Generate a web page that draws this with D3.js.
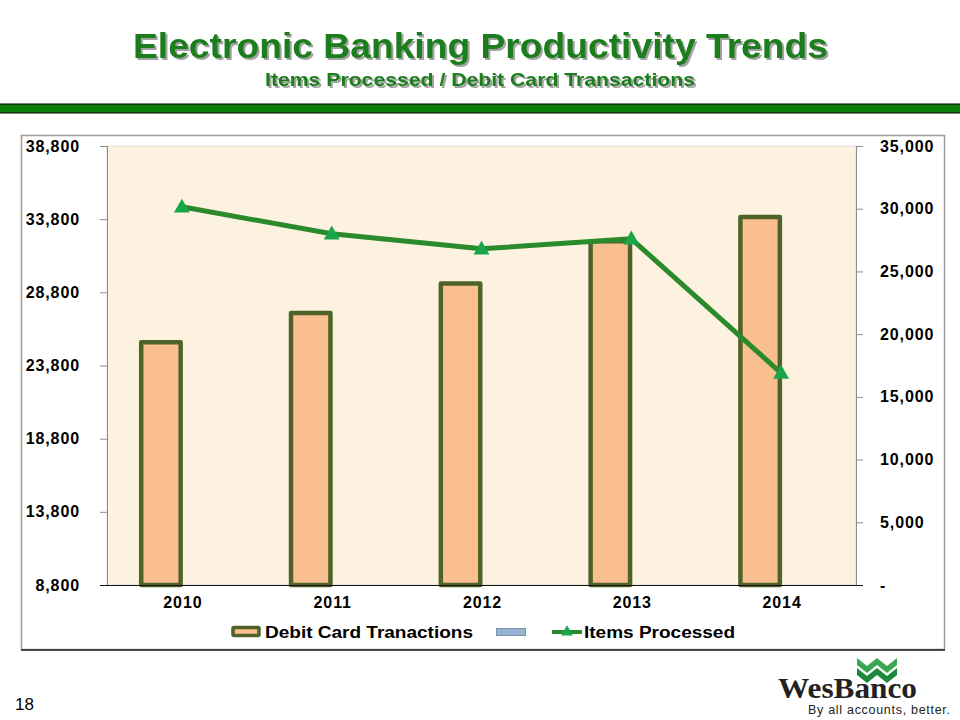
<!DOCTYPE html>
<html><head><meta charset="utf-8">
<script src="https://cdn.jsdelivr.net/npm/d3@7"></script>
<style>body{margin:0;background:#fff}svg{display:block}</style>
</head><body>
<svg id="c" width="960" height="720"></svg>
<script>
const categories = ["2010","2011","2012","2013","2014"];
const debitCard = [25550, 27550, 29550, 32450, 34100];
const itemsProcessed = [30150, 28000, 26800, 27600, 16900];
const leftTicks = [8800, 13800, 18800, 23800, 28800, 33800, 38800];
const rightTicks = [0, 5000, 10000, 15000, 20000, 25000, 30000, 35000];
const seriesNames = ["Debit Card Tranactions", "", "Items Processed"];

const svg = d3.select("#c");
const font = "'Liberation Sans', Arial, sans-serif";

const defs = svg.append("defs");
const f = defs.append("filter").attr("id", "sh").attr("x", "-5%").attr("y", "-20%").attr("width", "110%").attr("height", "150%");
f.append("feDropShadow").attr("dx", 2).attr("dy", 2).attr("stdDeviation", 0.6).attr("flood-color", "#555").attr("flood-opacity", 0.55);

// Title
const tg = svg.append("g").attr("font-family", font).attr("font-weight", "bold").attr("text-anchor", "middle").attr("fill", "#1a7d1a").attr("filter", "url(#sh)");
tg.append("text").attr("x", 480.5).attr("y", 58).attr("font-size", 35).attr("textLength", 695).attr("lengthAdjust", "spacingAndGlyphs").text("Electronic Banking Productivity Trends");
tg.append("text").attr("x", 480).attr("y", 86).attr("font-size", 19).attr("textLength", 430).attr("lengthAdjust", "spacingAndGlyphs").text("Items Processed / Debit Card Transactions");
svg.append("rect").attr("x", -1).attr("y", 104).attr("width", 962).attr("height", 9).attr("fill", "#0a7f0a").attr("stroke", "#000").attr("stroke-width", 1);

// Chart box
svg.append("rect").attr("x", 21.5).attr("y", 135.5).attr("width", 923).attr("height", 514).attr("fill", "#fff").attr("stroke", "#9a9a9a").attr("stroke-width", 1.5);
svg.append("line").attr("x1", 21).attr("x2", 945).attr("y1", 650).attr("y2", 650).attr("stroke", "#222").attr("stroke-width", 1.5);

const m = {l: 107, r: 856, t: 146, b: 585};
svg.append("rect").attr("x", m.l).attr("y", m.t).attr("width", m.r - m.l).attr("height", m.b - m.t).attr("fill", "#fcf2df").attr("stroke", "#d8d8d8").attr("stroke-width", 0.8);

const x = d3.scaleBand().domain(categories).range([m.l, m.r]).paddingInner(0.4).paddingOuter(0.2);
const xs = d3.scaleBand().domain([0, 1]).range([0, x.bandwidth()]);
const yL = d3.scaleLinear().domain([8800, 38800]).range([m.b, m.t]);
const yR = d3.scaleLinear().domain([0, 35000]).range([m.b, m.t]);

// Bars
const sw = 4.5;
svg.append("g").selectAll("rect").data(debitCard).join("rect")
  .attr("x", (d, i) => x(categories[i]) + xs(0) + sw / 2 + 2)
  .attr("y", d => yL(d) + sw / 2)
  .attr("width", xs.bandwidth() - sw - 1)
  .attr("height", d => m.b - yL(d) - sw / 2)
  .attr("fill", "#f9bf8f").attr("stroke", "#4f6228").attr("stroke-width", sw).attr("stroke-linejoin", "round");

// Axes
const fmt = d3.format(",");
const axL = svg.append("g").attr("transform", `translate(${m.l},0)`)
  .call(d3.axisLeft(yL).tickValues(leftTicks).tickSize(7).tickPadding(20).tickFormat(fmt));
const axR = svg.append("g").attr("transform", `translate(${m.r},0)`)
  .call(d3.axisRight(yR).tickValues(rightTicks).tickSize(7).tickPadding(17).tickFormat(d => d === 0 ? "-" : fmt(d)));
[axL, axR].forEach(a => {
  a.select(".domain").attr("stroke", "#8c8c8c");
  a.selectAll(".tick line").attr("stroke", "#8c8c8c");
  a.selectAll("text").attr("font-family", font).attr("font-weight", "bold").attr("font-size", 16).attr("fill", "#000").attr("letter-spacing", "0.9px");
});
axR.selectAll("text").attr("text-anchor", "start");
const axB = svg.append("g").attr("transform", `translate(0,${m.b})`)
  .call(d3.axisBottom(x).tickSize(0).tickPadding(12));
axB.select(".domain").remove();
axB.selectAll("text").attr("font-family", font).attr("font-weight", "bold").attr("font-size", 16).attr("fill", "#000").attr("letter-spacing", "0.9px").attr("dx", "1");
svg.append("line").attr("x1", 100).attr("x2", 863).attr("y1", m.b + 0.5).attr("y2", m.b + 0.5).attr("stroke", "#111").attr("stroke-width", 1.2);

// Line
const cx = c => x(c) + x.bandwidth() / 2;
const line = d3.line().x((d, i) => cx(categories[i])).y(d => yR(d));
svg.append("path").datum(itemsProcessed).attr("d", line).attr("fill", "none").attr("stroke", "#2b8a2b").attr("stroke-width", 5).attr("stroke-linejoin", "round");
const tri = d3.symbol().type(d3.symbolTriangle).size(110);
svg.append("g").selectAll("path").data(itemsProcessed).join("path")
  .attr("transform", (d, i) => `translate(${cx(categories[i])},${yR(d) + 1})`)
  .attr("d", tri).attr("fill", "#19a54a");

// Legend
const lg = svg.append("g").attr("font-family", font).attr("font-weight", "bold").attr("font-size", 16).attr("fill", "#000");
lg.append("rect").attr("x", 233).attr("y", 627.5).attr("width", 26).attr("height", 8).attr("fill", "#f9bf8f").attr("stroke", "#4f6228").attr("stroke-width", 3.5).attr("rx", 1);
lg.append("text").attr("x", 265).attr("y", 638).attr("textLength", 208).attr("lengthAdjust", "spacingAndGlyphs").text(seriesNames[0]);
lg.append("rect").attr("x", 496.5).attr("y", 628.5).attr("width", 29).attr("height", 7).attr("fill", "#95b3d7").attr("stroke", "#7f8fa5").attr("stroke-width", 1);
lg.append("line").attr("x1", 552).attr("x2", 582).attr("y1", 632).attr("y2", 632).attr("stroke", "#2b8a2b").attr("stroke-width", 4);
lg.append("path").attr("transform", "translate(567,632)").attr("d", d3.symbol().type(d3.symbolTriangle).size(60)).attr("fill", "#19a54a");
lg.append("text").attr("x", 584).attr("y", 638).attr("textLength", 151).attr("lengthAdjust", "spacingAndGlyphs").text(seriesNames[2]);

// Page number
svg.append("text").attr("x", 15).attr("y", 710).attr("font-family", font).attr("font-size", 17).attr("fill", "#000").text("18");

// Logo
const lo = svg.append("g");
const chev = (y0, col) => lo.append("path").attr("d", `M857,${y0} L867,${y0+8} L877,${y0} L887,${y0+8} L897,${y0} L897,${y0+7} L887,${y0+15} L877,${y0+7} L867,${y0+15} L857,${y0+7} Z`).attr("fill", col);
chev(658, "#3aa852"); chev(668, "#1c8a3a");
lo.append("text").attr("x", 778).attr("y", 698).attr("font-family", "'Liberation Serif', 'DejaVu Serif', serif").attr("font-weight", "bold").attr("font-size", 30).attr("textLength", 139).attr("lengthAdjust", "spacingAndGlyphs").attr("fill", "#222").text("WesBanco");
lo.append("text").attr("x", 808).attr("y", 714).attr("font-family", font).attr("font-size", 12.5).attr("textLength", 142).attr("fill", "#222").text("By all accounts, better.");
</script>
</body></html>
